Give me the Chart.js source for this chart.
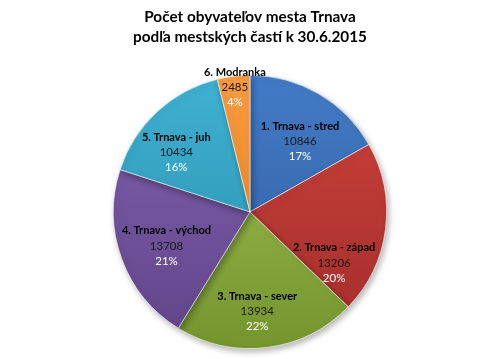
<!DOCTYPE html>
<html>
<head>
<meta charset="utf-8">
<script src="https://cdn.jsdelivr.net/npm/chart.js@4.4.1/dist/chart.umd.min.js"></script>
<style>
  html, body { margin: 0; padding: 0; background: #fff; }
  #wrap { width: 500px; height: 359px; }
</style>
</head>
<body>
<div id="wrap"><canvas id="pieChart" width="500" height="359"></canvas></div>
<script>
// data
let titleLines = ["Počet obyvateľov mesta Trnava", "podľa mestských častí k 30.6.2015"];
let districts = ["1. Trnava - stred", "2. Trnava - západ", "3. Trnava - sever", "4. Trnava - východ", "5. Trnava - juh", "6. Modranka"];
let population = [10846, 13206, 13934, 13708, 10434, 2485];

// light (top) / dark (bottom) shades per slice
let topColors = ["#437bc6", "#cf433c", "#a1c556", "#8262ae", "#3fb1d2", "#f89a40"];
let bottomColors = ["#2d5c9c", "#a02c2a", "#74942d", "#604489", "#288daa", "#e47c1c"];

// Excel "best fit" like placement: angle shift (deg) and radius factor
let labelShift = [5, 24, 3, -2, -8, 0];
let labelRadius = [0.635, 0.72, 0.73, 0.66, 0.695, 0.92];

function sliceGradient(ctx, i) {
    let area = ctx.chart.chartArea;
    if (!area) return topColors[i];
    let g = ctx.chart.ctx.createLinearGradient(0, area.top, 0, area.bottom);
    g.addColorStop(0, topColors[i]);
    g.addColorStop(1, bottomColors[i]);
    return g;
}

// shadow under the pie
const pieShadow = {
    id: 'pieShadow',
    beforeDatasetsDraw(chart) {
        let c = chart.ctx;
        c.save();
        c.shadowColor = 'rgba(0,0,0,0.3)';
        c.shadowBlur = 6;
        c.shadowOffsetX = 2;
        c.shadowOffsetY = 3;
    },
    afterDatasetsDraw(chart) {
        chart.ctx.restore();
    }
};

const sliceLabels = {
    id: 'sliceLabels',
    afterDatasetsDraw(chart) {
        let c = chart.ctx;
        let meta = chart.getDatasetMeta(0);
        let total = population.reduce((a, b) => a + b, 0);
        c.save();
        c.shadowColor = 'transparent';
        c.textAlign = 'center';
        c.textBaseline = 'middle';
        meta.data.forEach((arc, i) => {
            let p = arc.getProps(['x', 'y', 'startAngle', 'endAngle', 'outerRadius'], true);
            let mid = (p.startAngle + p.endAngle) / 2 + labelShift[i] * Math.PI / 180;
            let r = p.outerRadius * labelRadius[i];
            let x = p.x + Math.cos(mid) * r;
            let y = p.y + Math.sin(mid) * r;
            c.font = 'bold 11px Lato';
            c.fillStyle = '#000';
            c.fillText(districts[i], x, y - 15);
            c.font = '11.5px Lato';
            c.fillStyle = '#1a1a1a';
            c.fillText(String(population[i]), x, y);
            c.fillStyle = '#ffffff';
            c.fillText(Math.round(population[i] / total * 100) + '%', x, y + 15);
        });
        c.restore();
    }
};

let ctx = document.getElementById('pieChart').getContext('2d');
let chart = new Chart(ctx, {
    type: 'pie',
    data: {
        labels: districts,
        datasets: [{
            data: population,
            backgroundColor: (c) => sliceGradient(c, c.dataIndex),
            borderColor: 'rgba(255,255,255,0.6)',
            borderWidth: 1
        }]
    },
    options: {
        responsive: false,
        animation: false,
        layout: { padding: { top: 0, bottom: 10, left: 0, right: 0 } },
        plugins: {
            legend: { display: false },
            tooltip: { enabled: false },
            title: {
                display: true,
                text: titleLines,
                color: '#000',
                font: { family: 'Lato', size: 15.3, weight: 'bold', lineHeight: 1.3 },
                padding: { top: 7, bottom: 28 }
            }
        }
    },
    plugins: [pieShadow, sliceLabels]
});
</script>
</body>
</html>
